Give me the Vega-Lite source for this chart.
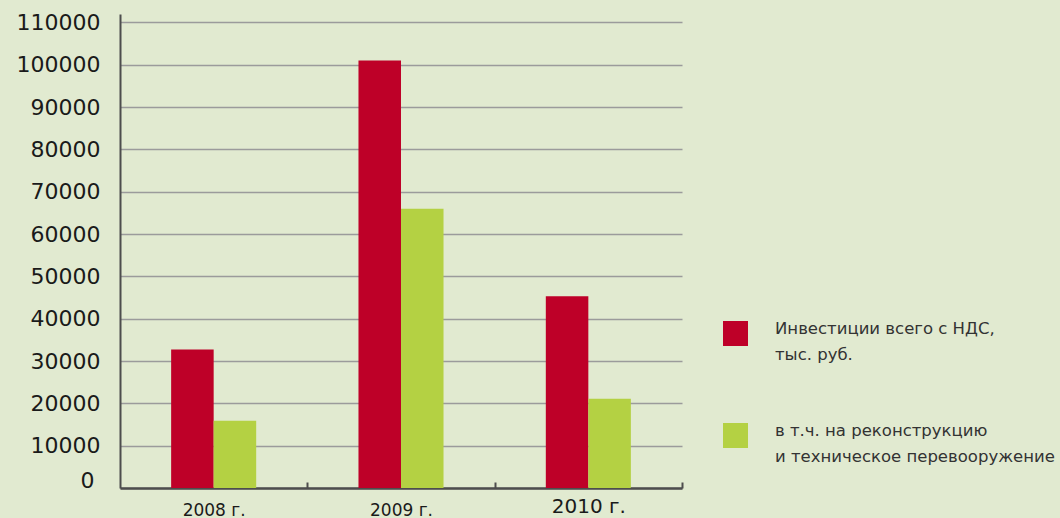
{
  "$schema": "https://vega.github.io/schema/vega-lite/v6.json",
  "width": 562,
  "height": 474,
  "autosize": "none",
  "padding": {"left": 120, "top": 14, "right": 378, "bottom": 30},
  "background": "#e1ead0",
  "config": {
    "view": {"stroke": null},
    "font": "DejaVu Sans",
    "style": {"guide-label": {"lineHeight": 26}}
  },
  "data": {
    "values": [
      {"year": "2008 г.", "series": "Инвестиции всего с НДС,|тыс. руб.", "value": 32700},
      {"year": "2008 г.", "series": "в т.ч. на реконструкцию|и техническое перевооружение", "value": 15900},
      {"year": "2009 г.", "series": "Инвестиции всего с НДС,|тыс. руб.", "value": 101000},
      {"year": "2009 г.", "series": "в т.ч. на реконструкцию|и техническое перевооружение", "value": 66000},
      {"year": "2010 г.", "series": "Инвестиции всего с НДС,|тыс. руб.", "value": 45300},
      {"year": "2010 г.", "series": "в т.ч. на реконструкцию|и техническое перевооружение", "value": 21100}
    ]
  },
  "mark": {"type": "bar"},
  "encoding": {
    "x": {
      "field": "year",
      "type": "nominal",
      "sort": null,
      "scale": {"paddingInner": 0.546, "paddingOuter": 0.273},
      "axis": {
        "title": null,
        "labelAngle": 0,
        "grid": false,
        "domainColor": "#4d4d4d",
        "domainWidth": 2.5,
        "ticks": true,
        "tickOffset": 93.7,
        "labelOffset": -93.7,
        "tickColor": "#4d4d4d",
        "tickWidth": 2,
        "tickSize": -6,
        "labelFontSize": {"condition": {"test": "datum.value == '2010 г.'", "value": 20}, "value": 17},
        "labelPadding": {"condition": {"test": "datum.value == '2010 г.'", "value": 14}, "value": 20},
        "labelColor": "#1a1a1a",
        "labelBaseline": "top"
      }
    },
    "xOffset": {
      "field": "series",
      "type": "nominal",
      "sort": ["Инвестиции всего с НДС,|тыс. руб.", "в т.ч. на реконструкцию|и техническое перевооружение"],
      "scale": {"paddingInner": 0, "paddingOuter": 0}
    },
    "y": {
      "field": "value",
      "type": "quantitative",
      "scale": {"domain": [0, 112000], "nice": false},
      "axis": {
        "title": null,
        "values": [0, 10000, 20000, 30000, 40000, 50000, 60000, 70000, 80000, 90000, 100000, 110000],
        "format": "d",
        "ticks": false,
        "domainColor": "#4d4d4d",
        "domainWidth": 2,
        "gridColor": "#9b9b9b",
        "gridWidth": 1.5,
        "labelFontSize": 22,
        "labelColor": "#1a1a1a",
        "labelPadding": {"condition": {"test": "datum.value == 0", "value": 26}, "value": 20},
        "labelOffset": {"condition": {"test": "datum.value == 0", "value": -8}, "value": 0}
      }
    },
    "color": {
      "field": "series",
      "type": "nominal",
      "scale": {
        "domain": ["Инвестиции всего с НДС,|тыс. руб.", "в т.ч. на реконструкцию|и техническое перевооружение"],
        "range": ["#be0028", "#b4d143"]
      },
      "legend": {
        "orient": "none",
        "legendX": 603,
        "legendY": 307,
        "title": null,
        "padding": 0,
        "symbolType": "square",
        "symbolSize": 625,
        "symbolStrokeWidth": 0,
        "symbolOpacity": 1,
        "labelFontSize": 16.5,
        "labelColor": "#333333",
        "labelOffset": 27,
        "labelLimit": 400,
        "labelBaseline": "alphabetic",
        "rowPadding": 59,
        "labelExpr": "split(datum.label, '|')"
      }
    }
  }
}
